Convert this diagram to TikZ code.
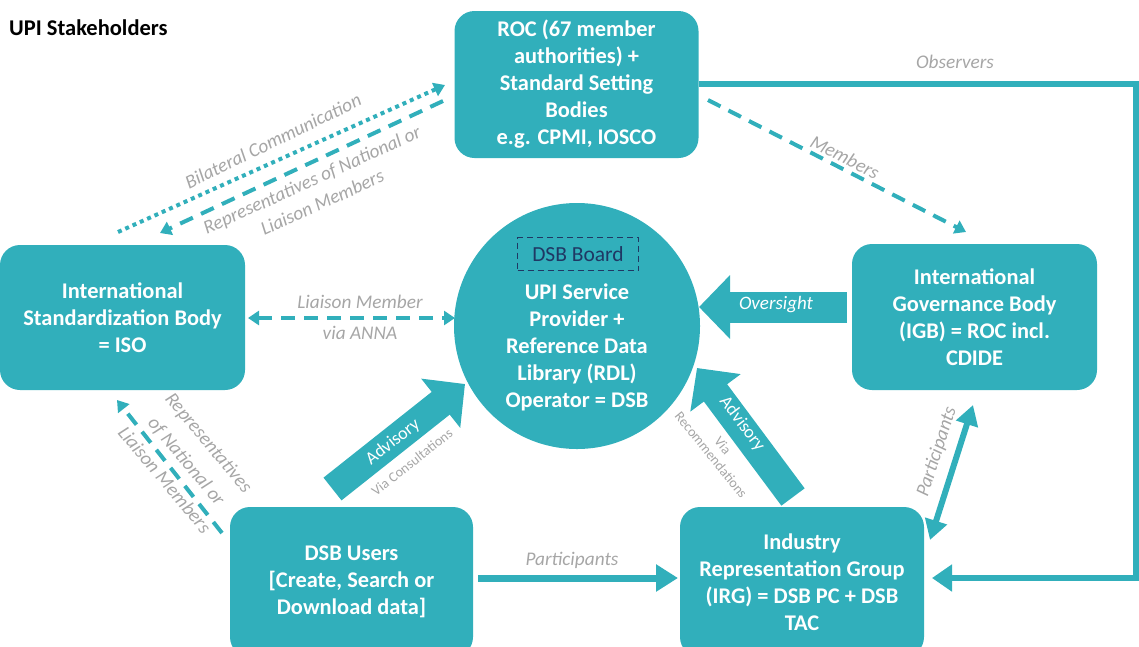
\documentclass[tikz,border=0pt]{standalone}
\usepackage{fontspec}
\setmainfont{Carlito}
\usetikzlibrary{arrows.meta}
\definecolor{teal1}{HTML}{31AFBB}
\definecolor{lab}{HTML}{A6A6A6}
\definecolor{navy}{HTML}{1F3864}
\begin{document}
\begin{tikzpicture}[x=1pt,y=-1pt,
  box/.style={fill=teal1, rounded corners=20pt, text=white, font=\fontsize{22.4}{27}\selectfont\bfseries, align=center, inner sep=0pt},
  boxtext/.style={text=white, font=\fontsize{22.4}{27}\selectfont\bfseries, align=center, inner sep=0pt},
  lbl/.style={text=lab, font=\fontsize{19.3}{25}\selectfont\itshape, align=center, inner sep=0pt},
  smalllbl/.style={text=lab, font=\fontsize{14}{15}\selectfont, align=center, inner sep=0pt},
  whitelbl/.style={text=white, font=\fontsize{18}{22}\selectfont, inner sep=0pt},
  dashconn/.style={teal1, line width=4pt, dash pattern=on 14pt off 9pt},
  dotconn/.style={teal1, line width=4pt, dash pattern=on 4pt off 4pt},
  smalltip/.style={-{Triangle[length=11pt,width=14pt]}},
  blockarrow/.style={teal1, line width=29pt, -{Triangle[length=31pt,width=61pt]}},
]
\useasboundingbox (0,0) rectangle (1139,646);

\node[font=\fontsize{22.5}{24}\selectfont\bfseries, anchor=west, inner sep=0pt] (title) at (9,28) {UPI Stakeholders};

\node[box, minimum width=244pt, minimum height=147pt] (roc) at (576.5,84.5) {ROC (67 member\\authorities) +\\Standard Setting\\Bodies\\e.g. CPMI, IOSCO};
\node[box, minimum width=245pt, minimum height=145pt] (iso) at (122.5,317.5) {International\\Standardization Body\\= ISO};
\node[box, minimum width=245pt, minimum height=146pt] (igb) at (974.5,317) {International\\Governance Body\\(IGB) = ROC incl.\\CDIDE};
\node[box, minimum width=243pt, minimum height=150pt] (users) at (351.5,582) {DSB Users\\{[}Create, Search or\\Download data{]}};
\node[box, minimum width=244pt, minimum height=150pt] (irg) at (802,582) {Industry\\Representation Group\\(IRG) = DSB PC + DSB\\TAC};

\node[circle, fill=teal1, minimum size=246pt, inner sep=0pt] (dsb) at (577,326) {};
\node[draw=navy, line width=1.8pt, dash pattern=on 6pt off 4pt, minimum width=121pt, minimum height=33pt, inner sep=0pt, text=navy, font=\fontsize{21.5}{24}\selectfont] (board) at (578,254) {DSB Board};
\node[boxtext] (dsbtext) at (577,347) {UPI Service\\Provider +\\Reference Data\\Library (RDL)\\Operator = DSB};

% coordinates for connector ends
\coordinate (bcA) at (118,232);
\coordinate (bcB) at (445,85);
\coordinate (rpA) at (443,101);
\coordinate (rpB) at (160,233);
\coordinate (mbA) at (708,100);
\coordinate (mbB) at (966,232);
\coordinate (obsC1) at (1136,84);
\coordinate (obsC2) at (1136,578);
\coordinate (obsB) at (932,578);
\coordinate (lmA) at (248,318);
\coordinate (lmB) at (455,318);
\coordinate (ovA) at (847,307);
\coordinate (ovB) at (699,307);
\coordinate (adlA) at (332.5,489);
\coordinate (adlB) at (465,384);
\coordinate (adrA) at (793,497);
\coordinate (adrB) at (697,368);
\coordinate (phA) at (478,578);
\coordinate (phB) at (678,578);
\coordinate (pdA) at (930,540);
\coordinate (pdB) at (973,405);
\coordinate (lrA) at (222,533);
\coordinate (lrB) at (117,400);

% connectors
\draw[dotconn, smalltip] (bcA) -- (bcB);
\draw[dashconn, smalltip] (rpA) -- (rpB);
\draw[dashconn, smalltip] (mbA) -- (mbB);
\draw[teal1, line width=6pt, -{Triangle[length=20pt,width=26pt]}] (roc.east |- obsC1) -- (obsC1) -- (obsC2) -- (obsB);
\draw[dashconn, {Triangle[length=11pt,width=14pt]}-{Triangle[length=11pt,width=14pt]}] (lmA) -- (lmB);
\draw[teal1, line width=31pt, -{Triangle[length=31pt,width=62pt]}] (ovA) -- (ovB);
\draw[blockarrow] (adlA) -- (adlB);
\draw[blockarrow] (adrA) -- (adrB);
\draw[teal1, line width=7pt, -{Triangle[length=22pt,width=26pt]}] (phA) -- (phB);
\draw[teal1, line width=6pt, {Triangle[length=20pt,width=22pt]}-{Triangle[length=20pt,width=22pt]}] (pdA) -- (pdB);
\draw[dashconn, smalltip] (lrA) -- (lrB);

% labels
\node[lbl] (lobs) at (955,62) {Observers};
\node[lbl, rotate=-27] (lmem) at (845,157) {Members};
\node[lbl, rotate=26] (lbil) at (273,141) {Bilateral Communication};
\node[lbl, rotate=24.5] (lrep) at (317,191) {Representatives of National or\\Liaison Members};
\node[lbl, font=\fontsize{19.3}{31}\selectfont\itshape] (llia) at (360,317) {Liaison Member\\via ANNA};
\node[lbl, font=\fontsize{19.3}{29}\selectfont\itshape, rotate=-50] (lrep2) at (187,461) {Representatives\\of National or\\Liaison Members};
\node[lbl] (lpart) at (572,560) {Participants};
\node[lbl, rotate=72] (lpart2) at (937,452) {Participants};
\node[smalllbl, rotate=38] (lcons) at (412,462) {Via Consultations};
\node[smalllbl, rotate=-51] (lrec) at (717,450) {Via\\Recommendations};
\node[whitelbl, rotate=38] (ladv1) at (393,442) {Advisory};
\node[whitelbl, rotate=-53] (ladv2) at (742,424) {Advisory};
\node[whitelbl, font=\fontsize{19}{24}\selectfont\itshape] (lover) at (776,305) {Oversight};
\end{tikzpicture}
\end{document}
